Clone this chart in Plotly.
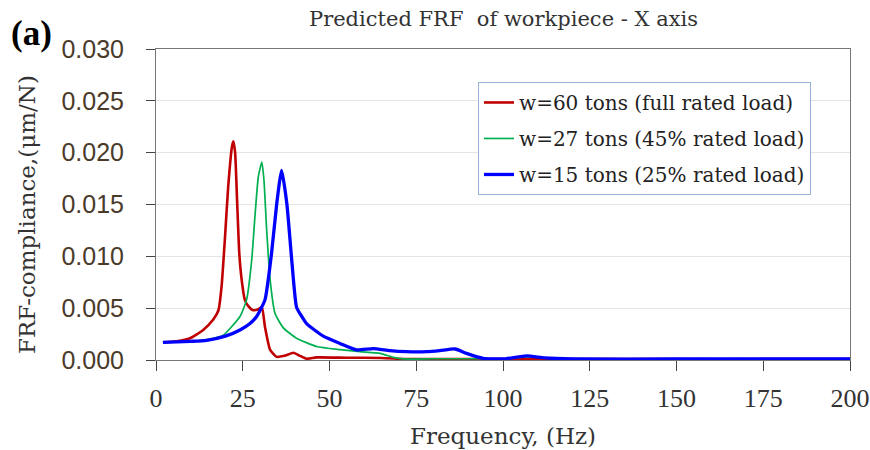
import plotly.graph_objects as go

# ---- data ----
f_60 = [2, 6, 9.8, 13.6, 16.5, 18, 18.9, 19.9, 20.8, 21.9, 22.3, 22.8, 23.4, 24.0, 24.7, 25.6, 26.6, 28, 29.5, 30.5, 31.4, 32.9, 34.8, 37, 39.6, 41.5, 43.4, 46.3, 55, 65, 72, 80, 100, 125, 150, 175, 200]
v_60 = [0.0017, 0.0018, 0.0021, 0.0029, 0.0039, 0.0048, 0.0071, 0.0119, 0.0167, 0.0206, 0.0211, 0.0200, 0.0151, 0.0103, 0.0077, 0.0058, 0.0052, 0.0048, 0.0049, 0.0051, 0.0032, 0.00097, 0.0003, 0.0004, 0.0007, 0.0004, 0.00012, 0.00025, 0.00022, 0.0002, 0.0001, 0.0001, 0.0001, 0.0001, 0.00008, 0.00008, 0.00008]

f_27 = [2, 10, 15, 19.4, 24.2, 26.1, 27.6, 28.5, 29.5, 30.5, 31.1, 31.9, 32.9, 34.3, 36.7, 40.5, 46.3, 53, 58.8, 64.6, 68.4, 71.3, 80, 95, 100, 107, 115, 125, 150, 200]
v_27 = [0.0017, 0.0018, 0.0020, 0.0024, 0.0042, 0.0058, 0.0097, 0.0138, 0.0177, 0.0191, 0.0174, 0.0125, 0.0077, 0.0045, 0.0031, 0.0021, 0.0013, 0.0010, 0.0008, 0.00064, 0.00026, 0.0001, 0.00012, 0.00012, 0.0001, 0.0003, 0.00015, 0.0001, 0.0001, 0.0001]

f_15 = [2, 10, 14.6, 20, 24.2, 27, 29, 31.4, 33.3, 34.8, 36.2, 37.7, 39.1, 40.5, 42, 43.4, 48.2, 53, 57.8, 62.6, 67.4, 72.2, 78, 81.8, 86.2, 89.5, 94.3, 100, 106.8, 112, 120, 150, 200]
v_15 = [0.0017, 0.0018, 0.0019, 0.0023, 0.0029, 0.0035, 0.0042, 0.0058, 0.0103, 0.0151, 0.0183, 0.0151, 0.0097, 0.0051, 0.0042, 0.0035, 0.0023, 0.0016, 0.00097, 0.0011, 0.0009, 0.0008, 0.0008, 0.0009, 0.00106, 0.00064, 0.00016, 0.0001, 0.0004, 0.0002, 0.0001, 0.0001, 0.0001]

names = ["w=60 tons (full rated load)", "w=27 tons (45% rated load)", "w=15 tons (25% rated load)"]
colors = ["#c00000", "#00b050", "#0000ff"]
widths = [2.6, 1.7, 3.3]

x_ticks = [0, 25, 50, 75, 100, 125, 150, 175, 200]
y_ticks = [0.000, 0.005, 0.010, 0.015, 0.020, 0.025, 0.030]

SERIF = "DejaVu Serif"

fig = go.Figure()
for i, (fx, vy) in enumerate([(f_60, v_60), (f_27, v_27), (f_15, v_15)]):
    fig.add_trace(go.Scatter(
        x=fx, y=vy, mode="lines", name=names[i], legendgroup=str(i),
        line=dict(color=colors[i], width=widths[i], shape="spline", smoothing=0.5),
    ))

L, R, T, B = 156, 20, 49, 90
fig.update_layout(
    width=870, height=450,
    margin=dict(l=L, r=R, t=T, b=B, autoexpand=False),
    paper_bgcolor="white", plot_bgcolor="white",
    showlegend=True,
    legend=dict(
        x=0.464, y=0.894, xanchor="left", yanchor="top",
        bordercolor="#95b3d7", borderwidth=1, bgcolor="white",
        font=dict(family=SERIF, size=20, color="#222222"),
        tracegroupgap=7, traceorder="grouped",
    ),
    xaxis=dict(
        range=[0, 200], tickvals=x_ticks, ticktext=[str(t) for t in x_ticks],
        showgrid=False, zeroline=False, automargin=False, ticklabeloverflow="allow",
        showline=True, linecolor="#777777", linewidth=1, mirror=True,
        ticks="outside", ticklen=10, tickcolor="#444444",
        tickfont=dict(family="Liberation Serif", size=26, color="#333333"),
        ticklabelstandoff=5,
    ),
    yaxis=dict(
        range=[0, 0.030], tickvals=y_ticks, ticktext=["%.3f" % t for t in y_ticks],
        showgrid=True, gridcolor="#e4e4e4", gridwidth=1, zeroline=False, automargin=False,
        showline=True, linecolor="#777777", linewidth=1, mirror=True,
        ticks="outside", ticklen=9, tickcolor="#444444",
        tickfont=dict(family="Liberation Sans", size=25, color="#4a3a2a"),
        ticklabelstandoff=17,
    ),
)

# annotations positioned in pixel terms, converted to paper coordinates
pw, ph = 870 - L - R, 450 - T - B
def ann(text, px, py, size, angle=0, color="#333333", family=SERIF):
    return dict(text=text, xref="paper", yref="paper",
                x=(px - L) / pw, y=(450 - B - py) / ph,
                xanchor="center", yanchor="middle", showarrow=False, textangle=angle,
                font=dict(family=family, size=size, color=color))

fig.update_layout(annotations=[
    ann("Predicted FRF  of workpiece - X axis", 503, 19, 21),
    ann("Frequency, (Hz)", 503, 436, 23),
    ann("FRF-compliance,(μm/N)", 27, 215, 23, angle=-90),
    ann("<b>(a)</b>", 31, 33, 35, color="black", family="Liberation Serif"),
])

fig.write_html("out.html", config={"displayModeBar": False},
               post_script="document.body.style.margin='0';document.body.style.overflow='hidden';")
